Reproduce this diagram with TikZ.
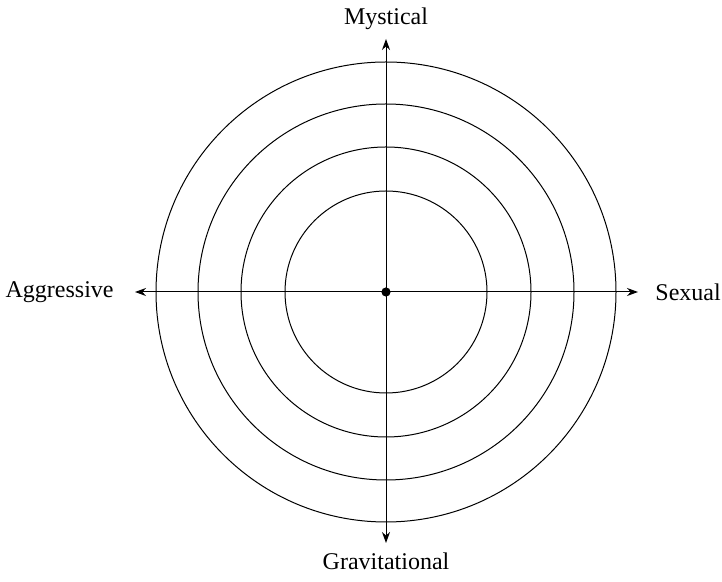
\documentclass[tikz,border=0pt]{standalone}
\usepackage{fontspec}
\setmainfont{Liberation Serif}
\usepackage{tikz}
\usetikzlibrary{arrows.meta, positioning}

\begin{document}
\begin{tikzpicture}[
    x=0.5pt, y=0.5pt,
    every node/.style={font=\fontsize{12}{14}\selectfont},
    lbl/.style={inner sep=0pt},
    ring/.style={line width=0.5pt},
    axis/.style={{Stealth[length=5.5pt, width=4pt]}-{Stealth[length=5.5pt, width=4pt]}, line width=0.5pt}
]
\useasboundingbox (0,0) rectangle (722,582);

% Centre and axis ends
\coordinate (c) at (386,290);
\coordinate (ntop) at (386,543);
\coordinate (nbot) at (386,39);
\coordinate (nleft) at (135,290);
\coordinate (nright) at (638,290);

% Rings
\foreach \r in {50.5pt, 72.5pt, 94pt, 115pt}
    \draw[ring] (c) circle (\r);

% Axes
\draw[axis] (nleft) -- (nright);
\draw[axis] (nbot) -- (ntop);
\fill (c) circle (2.3pt);

% Labels
\node[lbl, above=4.5pt of ntop] (myst) {Mystical};
\node[lbl, below=4.5pt of nbot] (grav) {Gravitational};
\node[lbl, left=10.5pt of nleft] (aggr) {Aggressive};
\node[lbl, right=8.5pt of nright] (sex) {Sexual};

\end{tikzpicture}
\end{document}
